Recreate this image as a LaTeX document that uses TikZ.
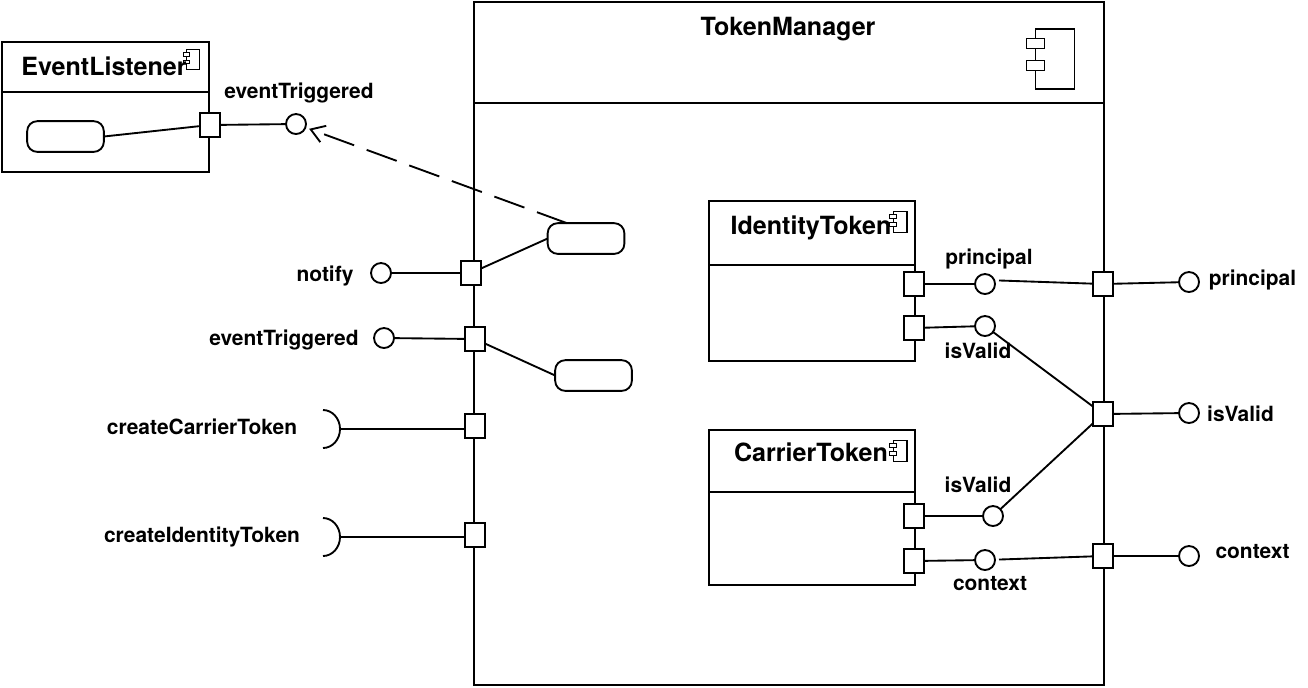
\documentclass[tikz,border=0pt]{standalone}
\usepackage{fontspec}
\setmainfont{TeX Gyre Heros}
\usetikzlibrary{arrows.meta}

\begin{document}
\begin{tikzpicture}[
x=0.75pt, y=-0.75pt,
line width=1.4pt,
    box/.style = {rectangle, draw, inner sep=0pt, outer sep=0pt},% compartments of components
   port/.style = {rectangle, draw, fill=white, inner sep=0pt, outer sep=0pt,
                  minimum width=15pt, minimum height=18pt},
   ball/.style = {circle, draw, fill=white, inner sep=0pt, outer sep=0pt,
                  minimum size=15pt},
  state/.style = {rectangle, rounded corners=7.5pt, draw, fill=white, inner sep=0pt,
                  outer sep=0pt, minimum width=57.5pt, minimum height=23pt},
  label/.style = {font=\fontsize{15.7pt}{18pt}\selectfont\bfseries, inner sep=0pt,
                  text height=0.72em, text depth=0.21em},
  title/.style = {font=\fontsize{18.8pt}{22pt}\selectfont\bfseries, inner sep=0pt,
                  text height=0.72em, text depth=0.21em},
                        ]
\useasboundingbox (0,0) rectangle (1308,687);
% components: name/left/top/width/head/rest
\foreach \n/\x/\y/\w/\h/\r in {evt/2/42/207/50/80, mgr/474/2/630/101/582,
                               idt/709/201/206/64/96, car/709/430/206/62/93}
{
    \node[box, anchor=north west, minimum width=\w*0.75pt, minimum height=\h*0.75pt]
        (\n Head) at (\x,\y) {};
    \node[box, anchor=north west, minimum width=\w*0.75pt, minimum height=\r*0.75pt]
        (\n Body) at (\n Head.south west) {};
}
% component icons
\foreach \n/\x/\y/\s in {evtIcon/193/59.5/0.33, mgrIcon/1055/59/1, idtIcon/900/222/0.36, carIcon/900/451/0.36}
{
    \node[box, minimum width=\s*29pt, minimum height=\s*45pt, line width=\s*0.6pt+0.6pt] (\n) at (\x,\y) {};
    \node[box, fill=white, minimum width=\s*13.5pt, minimum height=\s*7.5pt, line width=\s*0.4pt+0.5pt]
        (\n A) at ([yshift=\s*11.5pt]\n.west) {};
    \node[box, fill=white, minimum width=\s*13.5pt, minimum height=\s*7.5pt, line width=\s*0.4pt+0.5pt]
        (\n B) at ([yshift=-\s*5pt]\n.west) {};
}
\node[title] (evtTitle) at (104,72) {EventListener};
\node[title] (mgrTitle) at (788,32) {TokenManager};
\node[title] (idtTitle) at (811,231) {IdentityToken};
\node[title] (carTitle) at (811,458.5) {CarrierToken};
% states
\node[state] (evtState) at (65.5,136.5) {};
\node[state] (notifyState) at (586,238.5) {};
\node[state] (triggerState) at (593.5,375.5) {};
% ports
\foreach \n/\x/\y in {evtPort/210/125, notifyPort/471/273, triggerPort/475/339,
                      carrierPort/475/426, identityPort/475/535,
                      idtPrincipal/914/284, idtValid/914/328, carValid/914/516, carContext/914/561,
                      principalPort/1103/284, validPort/1103/414, contextPort/1103/556}
    \node[port] (\n) at (\x,\y) {};
% lollipops
\foreach \n/\x/\y in {evtBall/296/124, notifyBall/381/273, triggerBall/384/338,
                      principalIn/985/284, validIn/985/326, validCar/993/516, contextIn/985/560,
                      principalOut/1189/282, validOut/1189/413, contextOut/1189/556}
    \node[ball] (\n) at (\x,\y) {};
% sockets
\foreach \n/\x/\y in {carrierSock/340/429, identitySock/340/537}
{
    \coordinate (\n) at (\x,\y);
    \draw ([xshift=-12.75pt,yshift=14.25pt]\n) arc[start angle=90, end angle=-90,
        x radius=12.75pt, y radius=14.25pt];
}
% connectors
\draw (evtState.east) -- (evtPort);
\draw (evtPort) -- (evtBall);
\draw (notifyBall) -- (notifyPort);
\draw (notifyPort) -- (notifyState.west);
\draw (triggerBall) -- (triggerPort);
\draw (triggerPort) -- (triggerState.west);
\draw (carrierSock) -- (carrierSock-|carrierPort.west);
\draw (identitySock) -- (identitySock-|identityPort.west);
\draw (idtPrincipal) -- (principalIn);
\draw (idtValid) -- (validIn);
\draw (carValid) -- (validCar);
\draw (carContext) -- (contextIn);
\draw[shorten <=10.5pt] ([yshift=3pt]principalIn.center) -- (principalPort);
\draw (principalPort) -- (principalOut);
\draw (validIn) -- (validPort);
\draw (validCar) -- (validPort);
\draw (validPort) -- (validOut);
\draw[shorten <=3pt] (contextIn) -- (contextPort);
\draw (contextPort) -- (contextOut);
\draw[dash pattern=on 24pt off 10pt, -{Straight Barb[length=10pt,width=13pt]}, shorten >=3pt]
    ([xshift=-14.25pt]notifyState.north) -- (evtBall);
% labels
\node[label] (evtLabel) at (299,95) {eventTriggered};
\node[label] (notifyLabel) at (325,278) {notify};
\node[label] (triggerLabel) at (284,342) {eventTriggered};
\node[label] (carrierLabel) at (202,431) {createCarrierToken};
\node[label] (identityLabel) at (202,539) {createIdentityToken};
\node[label] (principalInLabel) at (989,261) {principal};
\node[label] (validInLabel) at (978,355) {isValid};
\node[label] (validCarLabel) at (978,489) {isValid};
\node[label] (contextInLabel) at (990,587) {context};
\node[label] (principalOutLabel) at (1252.5,282) {principal};
\node[label] (validOutLabel) at (1240.5,418) {isValid};
\node[label] (contextOutLabel) at (1252.5,555) {context};
\end{tikzpicture}
\end{document}
